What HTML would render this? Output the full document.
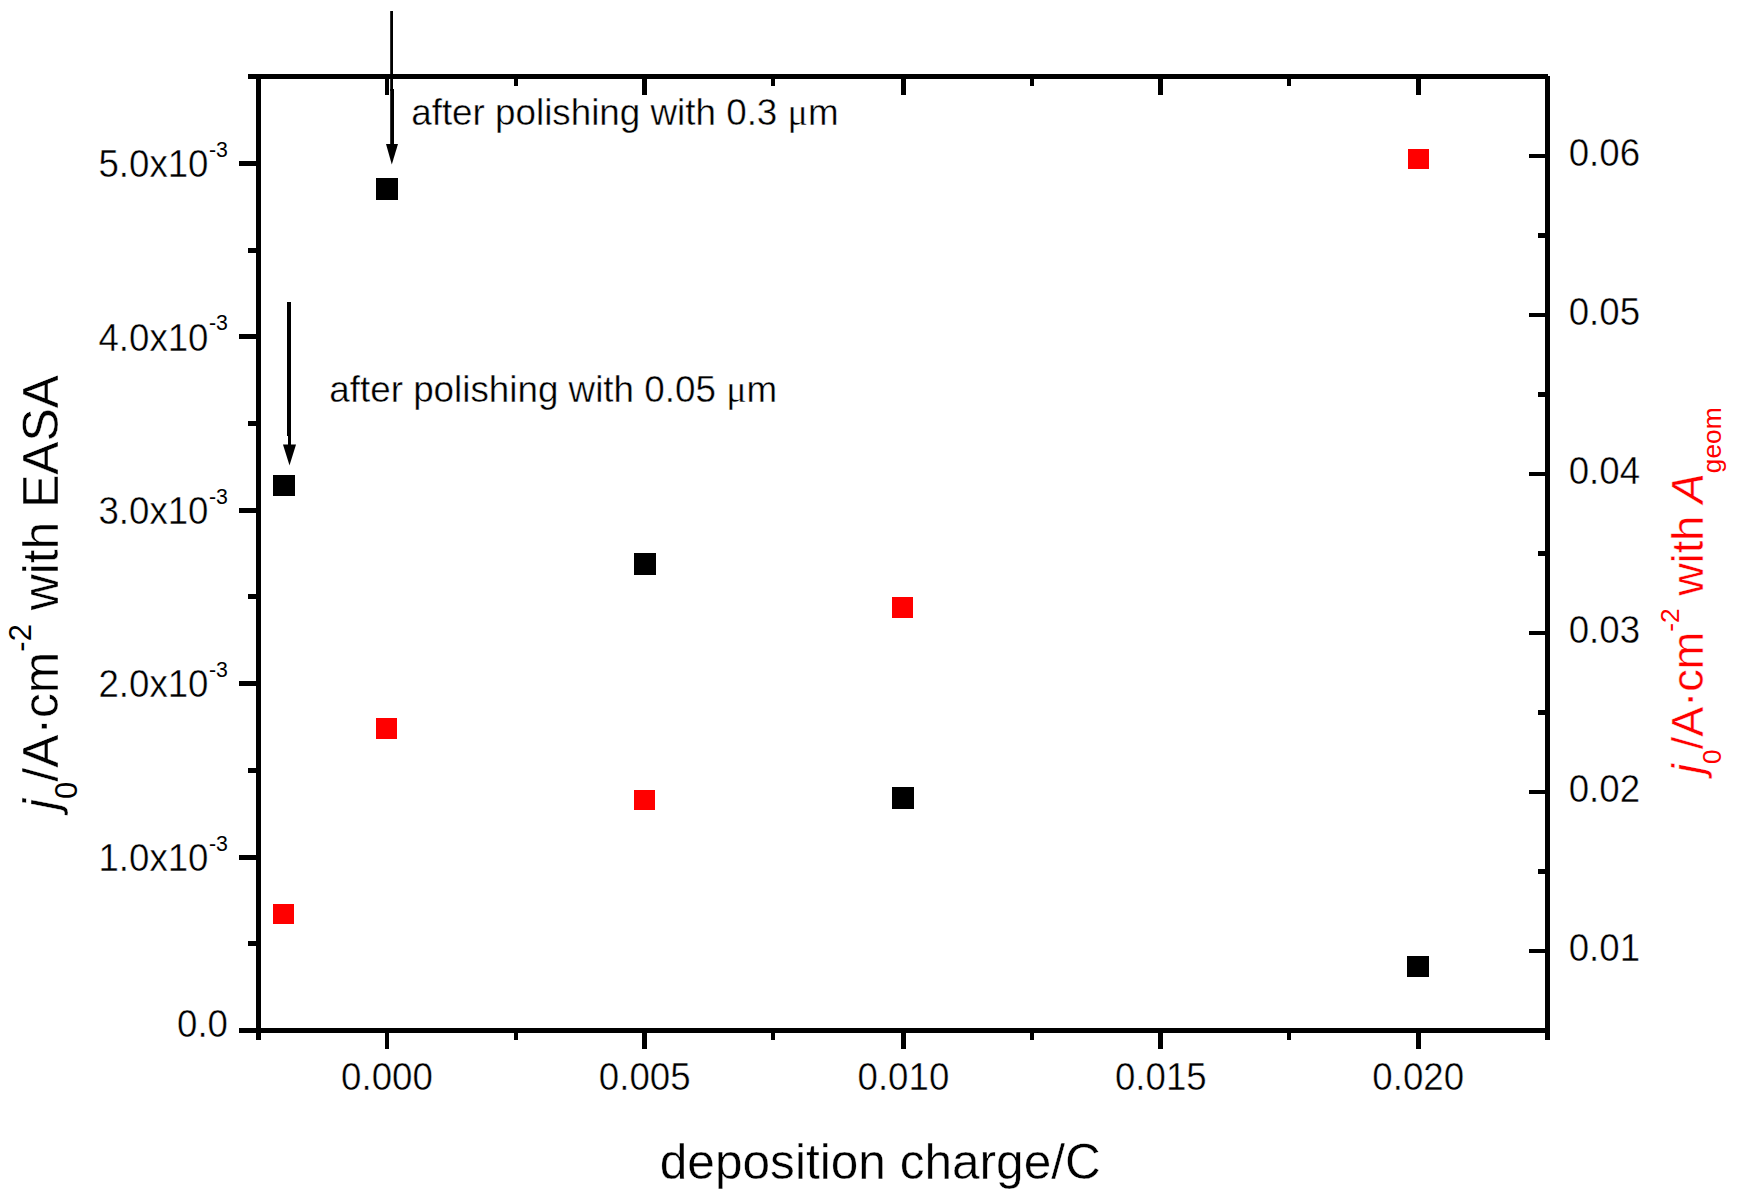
<!DOCTYPE html>
<html lang="en"><head><meta charset="utf-8"><title>j0 vs deposition charge</title>
<style>html,body{margin:0;padding:0;background:#fff;}svg{display:block;}text{font-family:"Liberation Sans",sans-serif;stroke:#fff;stroke-width:0.4px;}.ns{stroke:none;}</style>
</head><body>
<svg width="1738" height="1200" viewBox="0 0 1738 1200">
<rect x="0" y="0" width="1738" height="1200" fill="#ffffff"/>
<g fill="#000" shape-rendering="crispEdges">
<rect x="248" y="74" width="1300" height="5"/>
<rect x="239" y="1028" width="1311" height="5"/>
<rect x="256" y="74" width="5" height="966"/>
<rect x="1545" y="76" width="5" height="964"/>
<rect x="239" y="855" width="17" height="5"/>
<rect x="239" y="681" width="17" height="5"/>
<rect x="239" y="508" width="17" height="5"/>
<rect x="239" y="334" width="17" height="5"/>
<rect x="239" y="161" width="17" height="5"/>
<rect x="248" y="941" width="8" height="5"/>
<rect x="248" y="768" width="8" height="5"/>
<rect x="248" y="594" width="8" height="5"/>
<rect x="248" y="421" width="8" height="5"/>
<rect x="248" y="248" width="8" height="5"/>
<rect x="1529" y="949" width="16" height="4"/>
<rect x="1529" y="790" width="16" height="4"/>
<rect x="1529" y="631" width="16" height="4"/>
<rect x="1529" y="472" width="16" height="4"/>
<rect x="1529" y="313" width="16" height="4"/>
<rect x="1529" y="154" width="16" height="4"/>
<rect x="1538" y="869" width="7" height="5"/>
<rect x="1538" y="710" width="7" height="5"/>
<rect x="1538" y="551" width="7" height="5"/>
<rect x="1538" y="392" width="7" height="5"/>
<rect x="1538" y="233" width="7" height="5"/>
<rect x="385" y="1033" width="4" height="16"/>
<rect x="385" y="79" width="4" height="16"/>
<rect x="642" y="1033" width="5" height="16"/>
<rect x="642" y="79" width="5" height="16"/>
<rect x="901" y="1033" width="5" height="16"/>
<rect x="901" y="79" width="5" height="16"/>
<rect x="1158" y="1033" width="5" height="16"/>
<rect x="1158" y="79" width="5" height="16"/>
<rect x="1416" y="1033" width="5" height="16"/>
<rect x="1416" y="79" width="5" height="16"/>
<rect x="514" y="1033" width="4" height="7"/>
<rect x="514" y="79" width="4" height="7"/>
<rect x="771" y="1033" width="4" height="7"/>
<rect x="771" y="79" width="4" height="7"/>
<rect x="1030" y="1033" width="4" height="7"/>
<rect x="1030" y="79" width="4" height="7"/>
<rect x="1287" y="1033" width="4" height="7"/>
<rect x="1287" y="79" width="4" height="7"/>
</g>
<g shape-rendering="crispEdges">
<rect x="376" y="178" width="22" height="22" fill="#000"/>
<rect x="273" y="475" width="22" height="21" fill="#000"/>
<rect x="634" y="553" width="22" height="22" fill="#000"/>
<rect x="892" y="787" width="22" height="22" fill="#000"/>
<rect x="1407" y="956" width="22" height="21" fill="#000"/>
<rect x="1408" y="149" width="21" height="20" fill="#ff0000"/>
<rect x="892" y="597" width="21" height="21" fill="#ff0000"/>
<rect x="376" y="718" width="21" height="21" fill="#ff0000"/>
<rect x="634" y="790" width="21" height="20" fill="#ff0000"/>
<rect x="273" y="904" width="21" height="20" fill="#ff0000"/>
</g>
<g fill="#000">
<rect x="390.2" y="11" width="2.8" height="80"/><rect x="390.2" y="89" width="3.8" height="60"/><polygon points="386,144 398,144 391.8,164.5"/>
<rect x="287" y="302" width="4" height="134"/><rect x="288" y="436" width="3" height="12"/><polygon points="283,444.5 296,444.5 289.5,465.5"/>
</g>
<g fill="#000">
<text transform="translate(208.50,870.80) scale(1.0,1.045)" font-size="36.67" text-anchor="end">1.0x10</text>
<text transform="translate(209.00,850.60) scale(1.0,1.045)" font-size="21.3" class="ns">-3</text>
<text transform="translate(208.50,697.40) scale(1.0,1.045)" font-size="36.67" text-anchor="end">2.0x10</text>
<text transform="translate(209.00,677.20) scale(1.0,1.045)" font-size="21.3" class="ns">-3</text>
<text transform="translate(208.50,524.00) scale(1.0,1.045)" font-size="36.67" text-anchor="end">3.0x10</text>
<text transform="translate(209.00,503.80) scale(1.0,1.045)" font-size="21.3" class="ns">-3</text>
<text transform="translate(208.50,350.60) scale(1.0,1.045)" font-size="36.67" text-anchor="end">4.0x10</text>
<text transform="translate(209.00,330.40) scale(1.0,1.045)" font-size="21.3" class="ns">-3</text>
<text transform="translate(208.50,177.20) scale(1.0,1.045)" font-size="36.67" text-anchor="end">5.0x10</text>
<text transform="translate(209.00,157.00) scale(1.0,1.045)" font-size="21.3" class="ns">-3</text>
<text transform="translate(228.00,1037.00) scale(1.0,1.045)" font-size="36.67" text-anchor="end">0.0</text>
<text transform="translate(387.00,1090.00) scale(1.0,1.045)" font-size="36.67" text-anchor="middle">0.000</text>
<text transform="translate(644.70,1090.00) scale(1.0,1.045)" font-size="36.67" text-anchor="middle">0.005</text>
<text transform="translate(903.40,1090.00) scale(1.0,1.045)" font-size="36.67" text-anchor="middle">0.010</text>
<text transform="translate(1160.80,1090.00) scale(1.0,1.045)" font-size="36.67" text-anchor="middle">0.015</text>
<text transform="translate(1418.20,1090.00) scale(1.0,1.045)" font-size="36.67" text-anchor="middle">0.020</text>
<text transform="translate(1568.70,961.00) scale(1.0,1.045)" font-size="36.67">0.01</text>
<text transform="translate(1568.70,802.00) scale(1.0,1.045)" font-size="36.67">0.02</text>
<text transform="translate(1568.70,643.00) scale(1.0,1.045)" font-size="36.67">0.03</text>
<text transform="translate(1568.70,484.00) scale(1.0,1.045)" font-size="36.67">0.04</text>
<text transform="translate(1568.70,325.00) scale(1.0,1.045)" font-size="36.67">0.05</text>
<text transform="translate(1568.70,166.00) scale(1.0,1.045)" font-size="36.67">0.06</text>
<text transform="translate(411.20,124.50)" font-size="36.8">after polishing with 0.3 <tspan font-family="'Liberation Serif',serif" font-size="38">μ</tspan>m</text>
<text transform="translate(329.30,402.00)" font-size="36.8">after polishing with 0.05 <tspan font-family="'Liberation Serif',serif" font-size="38">μ</tspan>m</text>
</g>
<text transform="translate(880.30,1178.80) scale(1.0,0.99)" font-size="49.6" text-anchor="middle" fill="#000">deposition charge/C</text>
<text transform="translate(58,810) rotate(-90)" font-size="49.800000000000004" fill="#000"><tspan font-style="italic">j</tspan><tspan font-size="31" dy="19" class="ns">0</tspan><tspan dy="-19">/A·cm</tspan><tspan font-size="31" dy="-26.8" class="ns">-2</tspan><tspan dy="26.8"> with EASA</tspan></text>
<text transform="translate(1703,774) rotate(-90)" font-size="45.05" fill="#ff0000"><tspan font-style="italic">j</tspan><tspan font-size="26.3" dy="18.3" class="ns">0</tspan><tspan dy="-18.3">/A·cm</tspan><tspan font-size="26.3" dy="-24.4" class="ns">-2</tspan><tspan dy="24.4"> with </tspan><tspan font-style="italic">A</tspan><tspan font-size="26.3" dy="18.3" class="ns">geom</tspan></text>
</svg>
</body></html>
